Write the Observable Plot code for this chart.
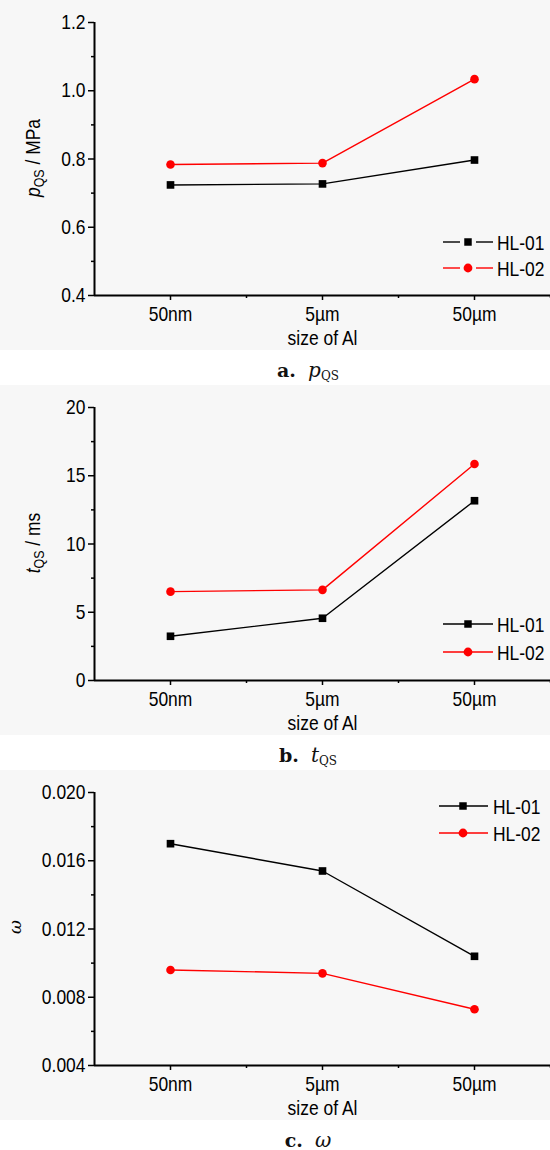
<!DOCTYPE html>
<html>
<head>
<meta charset="utf-8">
<script src="https://cdn.jsdelivr.net/npm/d3@7"></script>
<script src="https://cdn.jsdelivr.net/npm/@observablehq/plot@0.6"></script>
<style>
  html, body { margin: 0; background: #fff; width: 550px; overflow: hidden; }
  .cap { height: 35px; line-height: 40px; text-align: center; padding-left: 66px; box-sizing: border-box;
         font-family: "DejaVu Serif", "Liberation Serif", serif; font-size: 19px; color: #111; }
  .cap b { font-weight: bold; }
  .cap sub { font-size: 12px; font-style: normal; font-family: "DejaVu Serif", serif; vertical-align: -3px; }
  .cap i { font-family: "DejaVu Serif", serif; font-size: 20px; }
  svg { display: block; }
</style>
</head>
<body>
<div id="root"></div>
<script>
const sizes = ["50nm", "5µm", "50µm"];
const series = ["HL-01", "HL-02"];

const pQS_HL01 = [0.724, 0.727, 0.797];
const pQS_HL02 = [0.784, 0.788, 1.034];
const pTicks = [0.4, 0.6, 0.8, 1.0, 1.2];

const tQS_HL01 = [3.24, 4.56, 13.17];
const tQS_HL02 = [6.51, 6.64, 15.86];
const tTicks = [0, 5, 10, 15, 20];

const w_HL01 = [0.0170, 0.0154, 0.0104];
const w_HL02 = [0.0096, 0.0094, 0.0073];
const wTicks = [0.004, 0.008, 0.012, 0.016, 0.020];

const FONT = "'Liberation Sans Narrow','Arial Narrow','Liberation Sans',Arial,sans-serif";
const NARROW = 0.83;

function squeeze(svg) {
  svg.querySelectorAll("text:not(.noSqueeze)").forEach(t => {
    const w = t.getComputedTextLength();
    if (w > 0) {
      t.setAttribute("textLength", (w * NARROW).toFixed(2));
      t.setAttribute("lengthAdjust", "spacingAndGlyphs");
    }
  });
}

function panel(opts) {
  const data = [];
  opts.s1.forEach((v, i) => data.push({i, v, s: series[0]}));
  opts.s2.forEach((v, i) => data.push({i, v, s: series[1]}));
  const ticks = opts.ticks;
  const minor = d3.pairs(ticks).map(([a, b]) => (a + b) / 2);
  const svg = Plot.plot({
    width: 550, height: 350,
    marginLeft: 94, marginRight: 0, marginTop: 22, marginBottom: 55,
    style: {background: "#f7f7f7", fontFamily: FONT, fontSize: "21px", color: "#000"},
    x: {type: "linear", domain: [-0.5, 2.5]},
    y: {domain: [ticks[0], ticks[ticks.length - 1]]},
    color: {domain: series, range: ["#000", "#ff0000"]},
    symbol: {domain: series, range: ["square", "circle"]},
    marks: [
      Plot.axisX({ticks: [0, 1, 2], tickFormat: i => sizes[i], tickSize: 5, tickPadding: 5.5, strokeWidth: 1.5, label: null}),
      Plot.axisX({ticks: [0.5, 1.5, 2.5], tickFormat: () => "", tickSize: 3, strokeWidth: 1.5, label: null}),
      Plot.axisY({ticks, tickFormat: opts.fmt, tickSize: 6, tickPadding: 3, strokeWidth: 1.5, label: null}),
      Plot.axisY({ticks: minor, tickFormat: () => "", tickSize: 3, strokeWidth: 1.5, label: null}),
      Plot.ruleX([-0.5], {stroke: "#000", strokeWidth: 2}),
      Plot.ruleY([ticks[0]], {stroke: "#000", strokeWidth: 2}),
      Plot.line(data, {x: "i", y: "v", stroke: "s", strokeWidth: 1.4}),
      Plot.dot(data, {x: "i", y: "v", fill: "s", symbol: "s", r: 4.3, stroke: "none"}),
      Plot.text(["size of Al"], {frameAnchor: "bottom", lineAnchor: "middle", dy: 43, fill: "#000"})
    ]
  });
  const g = d3.select(svg);
  // y label
  const yl = g.append("text")
    .attr("class", "noSqueeze")
    .attr("transform", `translate(${opts.ylx},${opts.yly}) rotate(-90) scale(${opts.ynarrow ? NARROW : 1},1)`)
    .attr("text-anchor", "middle")
    .attr("dominant-baseline", "middle")
    .attr("fill", "#000");
  opts.ylabel(yl);
  // legend
  const L = opts.legend;
  const lg = g.append("g").attr("font-family", FONT).attr("font-size", 21).attr("text-anchor", "start");
  series.forEach((s, k) => {
    const y = L.y[k];
    const col = k === 0 ? "#000" : "#ff0000";
    if (L.gap) {
      lg.append("line").attr("x1", L.x0).attr("x2", L.m - 8).attr("y1", y).attr("y2", y).attr("stroke", col).attr("stroke-width", 1.4);
      lg.append("line").attr("x1", L.m + 8).attr("x2", L.x1).attr("y1", y).attr("y2", y).attr("stroke", col).attr("stroke-width", 1.4);
    } else {
      lg.append("line").attr("x1", L.x0).attr("x2", L.x1).attr("y1", y).attr("y2", y).attr("stroke", col).attr("stroke-width", 1.4);
    }
    lg.append("path").attr("d", d3.symbol(k === 0 ? d3.symbolSquare : d3.symbolCircle, k === 0 ? 56 : 61)())
      .attr("transform", `translate(${L.m},${y})`).attr("fill", col);
    lg.append("text").attr("class", "noSqueeze")
      .attr("transform", `translate(${L.tx},${y}) scale(${NARROW},1)`)
      .attr("dy", "0.36em").attr("fill", "#000").text(s);
  });
  const wrap = document.createElement("div");
  wrap.appendChild(svg);
  const cap = document.createElement("div");
  cap.className = "cap";
  cap.innerHTML = opts.caption;
  wrap.appendChild(cap);
  document.getElementById("root").appendChild(wrap);
  squeeze(svg);
}

panel({
  s1: pQS_HL01, s2: pQS_HL02, ticks: pTicks, fmt: d => d.toFixed(1),
  ylx: 35, yly: 158, ynarrow: true,
  ylabel: t => {
    t.append("tspan").attr("font-style", "italic").text("p");
    t.append("tspan").attr("font-size", 15).attr("dy", 5).text("QS");
    t.append("tspan").attr("dy", -5).text(" / MPa");
  },
  legend: {y: [242, 268], x0: 443, x1: 493, m: 468, tx: 497, gap: true},
  caption: "<b>a.</b>&nbsp;&nbsp;<i>p</i><sub>QS</sub>"
});
panel({
  s1: tQS_HL01, s2: tQS_HL02, ticks: tTicks, fmt: d => String(d),
  ylx: 35, yly: 158, ynarrow: true,
  ylabel: t => {
    t.append("tspan").attr("font-style", "italic").text("t");
    t.append("tspan").attr("font-size", 15).attr("dy", 5).text("QS");
    t.append("tspan").attr("dy", -5).text(" / ms");
  },
  legend: {y: [239, 267], x0: 443, x1: 493, m: 468, tx: 497, gap: false},
  caption: "<b>b.</b>&nbsp;&nbsp;<i>t</i><sub>QS</sub>"
});
panel({
  s1: w_HL01, s2: w_HL02, ticks: wTicks, fmt: d => d.toFixed(3),
  ylx: 16, yly: 157, ynarrow: false,
  ylabel: t => {
    t.append("tspan").attr("font-style", "italic").attr("font-family", "'DejaVu Serif',serif").attr("font-size", 17).text("ω");
  },
  legend: {y: [36, 63], x0: 439, x1: 488, m: 463, tx: 493, gap: false},
  caption: "<b>c.</b>&nbsp;&nbsp;<i>ω</i>"
});
</script>
</body>
</html>
